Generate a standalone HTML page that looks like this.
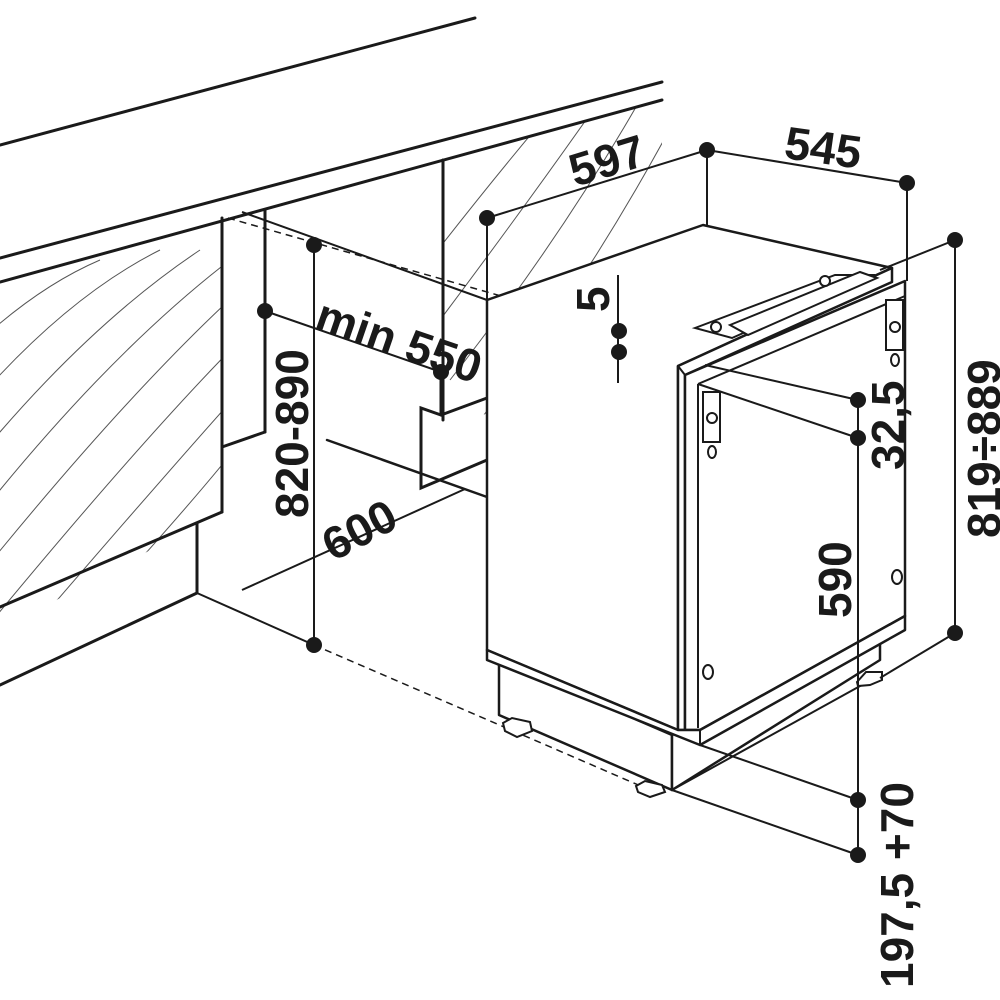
<!DOCTYPE html>
<html><head><meta charset="utf-8"><style>
html,body{margin:0;padding:0;background:#fff;}
svg{display:block;}
text{font-family:"Liberation Sans",Arial,sans-serif;font-weight:bold;fill:#1a1a1a;}
</style></head><body>
<svg width="1000" height="1000" viewBox="0 0 1000 1000" xmlns="http://www.w3.org/2000/svg">
<defs>
<clipPath id="lp"><polygon points="0,282 222,222 222,512 0,630"/></clipPath>
<clipPath id="rp"><polygon points="443,160 662,100 662,390 443,420"/></clipPath>
</defs>
<g fill="none" stroke="#555" stroke-width="1" clip-path="url(#lp)">
<path d="M-40,420 Q60,300 160,250"/><path d="M-40,480 Q80,330 200,250"/>
<path d="M-40,540 Q100,360 230,260"/><path d="M-40,600 Q120,400 240,290"/>
<path d="M-40,660 Q140,440 250,330"/><path d="M-20,690 Q160,480 250,380"/>
<path d="M20,690 Q180,520 250,430"/><path d="M60,690 Q200,560 250,480"/>
<path d="M100,690 Q220,600 250,530"/><path d="M-40,360 Q30,290 100,260"/>
</g>
<g fill="none" stroke="#555" stroke-width="1" clip-path="url(#rp)">
<path d="M430,260 Q500,170 560,100"/><path d="M440,320 Q530,200 600,100"/>
<path d="M450,380 Q560,240 640,100"/><path d="M480,420 Q590,280 680,110"/>
</g>
<g fill="none" stroke="#1a1a1a" stroke-width="3" stroke-linecap="round">
<line x1="0" y1="145" x2="475" y2="18"/>
<line x1="0" y1="258" x2="662" y2="82"/>
<line x1="0" y1="282" x2="662" y2="100"/>
<line x1="222" y1="218" x2="222" y2="512"/>
<line x1="222" y1="512" x2="0" y2="607"/>
<line x1="197" y1="523" x2="197" y2="593"/>
<line x1="197" y1="593" x2="0" y2="685"/>
<line x1="443" y1="160" x2="443" y2="420"/>
<line x1="265" y1="210" x2="265" y2="432"/>
<line x1="222" y1="447" x2="265" y2="432"/>
<polyline points="441,372 441,415 421,408 421,488 487,460"/>
<line x1="441" y1="415" x2="487" y2="398"/>
<line x1="327" y1="440" x2="487" y2="497" stroke-width="2.5"/>
</g>
<g fill="none" stroke="#1a1a1a" stroke-width="2">
<line x1="242" y1="212" x2="487" y2="300"/>
<line x1="197" y1="593" x2="314" y2="645"/>
<line x1="242" y1="590" x2="465" y2="489"/>
<line x1="314" y1="245" x2="314" y2="645"/>
<line x1="265" y1="311" x2="441" y2="372"/>
</g>
<g stroke="#1a1a1a" stroke-width="1.5" stroke-dasharray="7,5" fill="none">
<line x1="228" y1="218" x2="620" y2="330"/>
<line x1="314" y1="645" x2="650" y2="790"/>
</g>
<g fill="#fff" stroke="#1a1a1a" stroke-width="2.5" stroke-linejoin="round">
<polygon points="499,660 672,735 672,790 499,715"/>
<polygon points="672,735 880,640 880,660 672,790"/>
<polygon points="487,300 703,225 892,268 678,366 678,730 487,650"/>
<polygon points="678,366 892,268 892,282 685,375 685,730 678,730"/>
<polygon points="685,375 905,281 905,616 700,730 685,730"/>
<polygon points="487,650 678,730 700,730 905,616 905,630 700,745 487,660"/>
</g>
<g fill="none" stroke="#1a1a1a" stroke-width="2">
<line x1="698" y1="384" x2="698" y2="728"/>
<line x1="698" y1="384" x2="905" y2="296"/>
<line x1="678" y1="366" x2="685" y2="375"/>
<line x1="700" y1="730" x2="700" y2="745"/>
<line x1="672" y1="790" x2="880" y2="675"/>
</g>
<g fill="#fff" stroke="#1a1a1a" stroke-width="2">
<polygon points="695,328 835,275 875,275 732,338"/>
<polygon points="730,325 860,272 877,278 748,335"/>
<circle cx="716" cy="327" r="5"/><circle cx="825" cy="281" r="5"/>
</g>
<g fill="#fff" stroke="#1a1a1a" stroke-width="2">
<rect x="703" y="392" width="17" height="50"/><circle cx="712" cy="418" r="5"/><ellipse cx="712" cy="452" rx="4" ry="6"/>
<rect x="886" y="300" width="17" height="50"/><circle cx="895" cy="327" r="5"/><ellipse cx="895" cy="360" rx="4" ry="6"/>
<ellipse cx="708" cy="672" rx="5" ry="7"/><ellipse cx="897" cy="577" rx="5" ry="7"/>
<polygon points="503,723 512,718 530,722 532,731 517,737 505,731"/>
<polygon points="636,786 645,781 662,785 665,792 650,797 638,792"/>
<polygon points="857,682 866,672 882,672 882,680 870,685 858,686"/>
</g>
<g fill="none" stroke="#1a1a1a" stroke-width="2">
<line x1="487" y1="218" x2="707" y2="150"/>
<line x1="707" y1="150" x2="907" y2="183"/>
<line x1="487" y1="218" x2="487" y2="300"/>
<line x1="707" y1="150" x2="707" y2="225"/>
<line x1="907" y1="183" x2="907" y2="281"/>
<line x1="880" y1="270" x2="955" y2="240"/>
<line x1="880" y1="678" x2="955" y2="633"/>
<line x1="955" y1="240" x2="955" y2="633"/>
<line x1="618" y1="275" x2="618" y2="383"/>
<line x1="705" y1="365" x2="858" y2="400"/>
<line x1="698" y1="384" x2="858" y2="438"/>
<line x1="858" y1="400" x2="858" y2="855"/>
<line x1="700" y1="745" x2="858" y2="800"/>
<line x1="672" y1="790" x2="858" y2="855"/>
</g>
<g fill="#1a1a1a">
<circle cx="314" cy="245" r="8"/><circle cx="314" cy="645" r="8"/>
<circle cx="265" cy="311" r="8"/><circle cx="441" cy="372" r="8"/>
<circle cx="487" cy="218" r="8"/><circle cx="707" cy="150" r="8"/>
<circle cx="907" cy="183" r="8"/><circle cx="955" cy="240" r="8"/>
<circle cx="955" cy="633" r="8"/><circle cx="619" cy="331" r="8"/>
<circle cx="619" cy="352" r="8"/><circle cx="858" cy="400" r="8"/>
<circle cx="858" cy="438" r="8"/><circle cx="858" cy="800" r="8"/>
<circle cx="858" cy="855" r="8"/>
</g>
<g font-size="46">
<text x="0" y="0" transform="translate(575,187) rotate(-17)">597</text>
<text x="0" y="0" transform="translate(783,158) rotate(8)">545</text>
<text x="0" y="0" transform="translate(313,328) rotate(19)">min 550</text>
<text x="0" y="0" transform="translate(308,518) rotate(-90)">820-890</text>
<text x="0" y="0" transform="translate(333,562) rotate(-28)">600</text>
<text x="0" y="0" transform="translate(609,312) rotate(-90)">5</text>
<text x="0" y="0" transform="translate(904,470) rotate(-90)">32,5</text>
<text x="0" y="0" transform="translate(851,618) rotate(-90)">590</text>
<text x="0" y="0" transform="translate(1000,538) rotate(-90)">819÷889</text>
<text x="0" y="0" transform="translate(913,988) rotate(-90)">197,5 +70</text>
</g>
</svg>
</body></html>
